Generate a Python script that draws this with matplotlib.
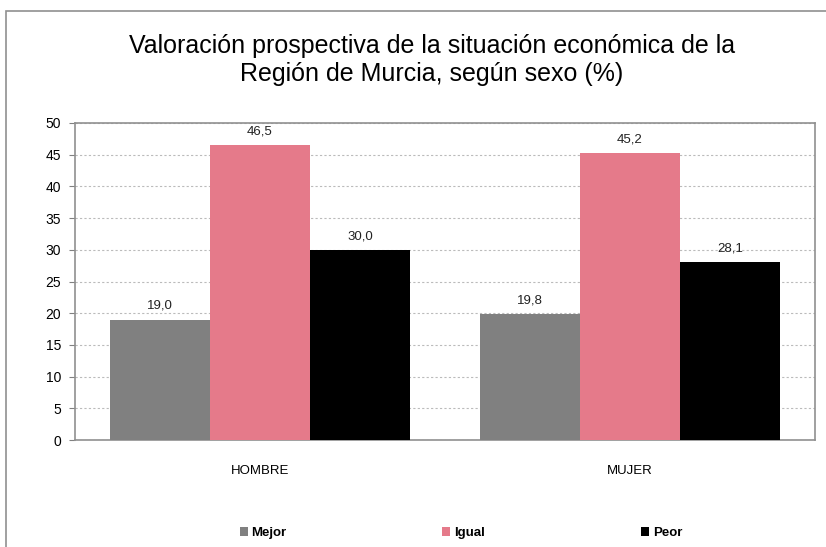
import matplotlib.pyplot as plt
import numpy as np
from matplotlib.patches import Rectangle

plt.rcParams['font.family'] = ['Liberation Sans', 'DejaVu Sans']

categories = ['HOMBRE', 'MUJER']
series = ['Mejor', 'Igual', 'Peor']
mejor = [19.0, 19.8]
igual = [46.5, 45.2]
peor = [30.0, 28.1]
colors = ['#808080', '#E57A8A', '#000000']

fig = plt.figure(figsize=(8.26, 5.47), dpi=100)
# outer chart frame (right and bottom edges fall outside the image)
fig.patches.append(Rectangle((6 / 826, -0.01), 1.05, 1 - 11 / 547 + 0.01,
                             transform=fig.transFigure, fill=False,
                             edgecolor='#909090', linewidth=1.2))

ax = fig.add_axes([75 / 826, 1 - 440 / 547, 740 / 826, 317 / 547])

x = np.arange(len(categories))
w = 100 / 370
for i, (vals, c) in enumerate(zip([mejor, igual, peor], colors)):
    pos = x + (i - 1) * w
    ax.bar(pos, vals, width=w, color=c, label=series[i], zorder=3)
    for p, v in zip(pos, vals):
        ax.text(p, v + 1.2, f'{v:.1f}'.replace('.', ','), ha='center',
                va='bottom', fontsize=9.5, color='#222222')

ax.set_xlim(-0.5, 1.5)
ax.set_ylim(0, 50)
ax.set_yticks(np.arange(0, 51, 5))
ax.set_xticks(x)
ax.set_xticklabels(categories, fontsize=9.5)
ax.tick_params(axis='x', length=0, pad=18)
ax.tick_params(axis='y', labelsize=10, length=4, color='#808080', pad=6)
ax.yaxis.grid(True, linestyle=(0, (2, 2)), color='#bbbbbb', linewidth=0.8, zorder=0)
for s in ax.spines.values():
    s.set_color('#909090')
    s.set_linewidth(1.2)

fig.text(0.523, 1 - 46 / 547, 'Valoración prospectiva de la situación económica de la',
         ha='center', va='center', fontsize=18)
fig.text(0.523, 1 - 74 / 547, 'Región de Murcia, según sexo (%)',
         ha='center', va='center', fontsize=18)

fig.legend(loc='center', bbox_to_anchor=(0.558, 1 - 533 / 547), ncol=3,
           frameon=False, handlelength=0.6, handleheight=0.6,
           handletextpad=0.3, columnspacing=11.8, prop={'weight': 'bold', 'size': 9.5})

fig.savefig('out.png', dpi=100)
